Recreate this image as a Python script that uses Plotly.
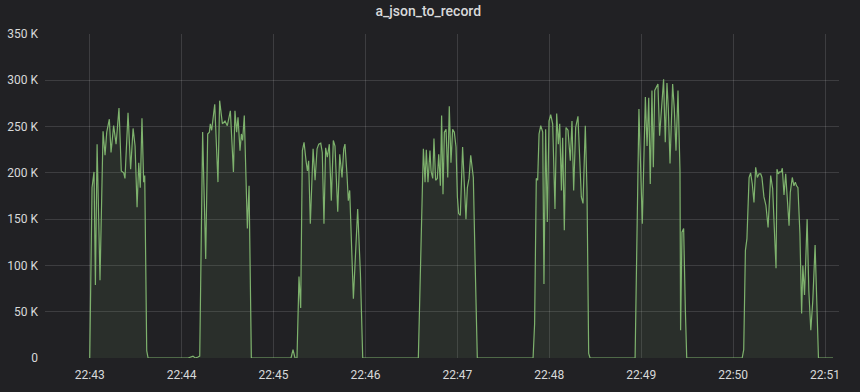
import pandas as pd
import plotly.graph_objects as go

# seconds after 22:43:00, values in thousands
b1_t = [0.0, 1.5, 2.8, 3.7, 4.8, 6.7, 8.7, 10.0, 11.1, 12.8, 13.9, 15.6, 17.2, 19.1, 20.6, 22.2, 23.0, 25.0, 26.7, 28.3, 29.6, 30.9, 32.0, 33.0, 34.1, 35.2, 35.9, 37.2, 38.1]
b1_v = [0, 184, 201, 79, 231, 84, 245, 219, 244, 258, 222, 251, 231, 270, 202, 200, 194, 265, 204, 248, 229, 163, 211, 184, 259, 190, 197, 8, 0]

b2_t = [64.2, 67.4, 68.9, 70.7, 71.8, 73.7, 75.7, 77.0, 78.1, 78.7, 79.6, 81.6, 83.7, 84.8, 86.6, 88.3, 89.8, 91.8, 93.8, 94.8, 95.9, 96.8, 98.1, 99.0, 99.8, 100.9, 102.9, 104.0, 105.5]
b2_v = [0, 2, 0, 1, 2, 244, 107, 242, 244, 253, 246, 274, 190, 278, 253, 256, 251, 267, 201, 267, 244, 260, 224, 242, 235, 262, 140, 186, 0]

b3_t = [131.4, 132.7, 134.0, 135.3, 136.6, 137.7, 138.8, 139.9, 141.2, 142.1, 142.9, 144.0, 145.8, 147.1, 148.4, 149.5, 150.8, 151.8, 152.9, 154.0, 155.1, 156.4, 157.7, 159.0, 160.1, 161.9, 163.2, 164.7, 165.8, 166.6, 167.9, 168.8, 169.7, 172.1, 174.9, 176.7, 178.2]
b3_v = [0, 9, 0, 0, 88, 54, 224, 233, 213, 202, 213, 145, 226, 192, 226, 231, 232, 222, 145, 227, 217, 231, 170, 235, 229, 158, 220, 195, 226, 231, 199, 170, 181, 64, 161, 91, 0]

b4_t = [214.5, 217.3, 217.8, 218.9, 219.7, 220.8, 222.1, 222.8, 223.9, 224.7, 225.8, 226.9, 227.8, 228.9, 229.7, 230.6, 231.5, 232.6, 233.7, 234.7, 235.8, 236.9, 238.0, 239.1, 240.0, 240.8, 241.9, 243.4, 244.5, 245.6, 246.5, 247.6, 248.7, 250.4, 251.5, 253.0]
b4_v = [0, 194, 226, 190, 225, 190, 224, 202, 194, 237, 192, 194, 220, 186, 262, 177, 244, 247, 195, 272, 211, 247, 244, 228, 174, 156, 154, 228, 192, 150, 184, 194, 219, 195, 109, 0]

b5_t = [289.4, 290.4, 291.5, 292.4, 293.3, 294.4, 295.7, 296.5, 297.6, 298.7, 299.8, 300.9, 302.2, 303.7, 304.8, 305.9, 306.8, 307.9, 308.7, 309.8, 310.9, 312.2, 313.7, 314.8, 315.9, 317.2, 318.7, 319.8, 320.9, 322.0, 323.5, 324.6, 325.7, 326.6]
b5_v = [0, 37, 194, 192, 242, 251, 244, 80, 247, 147, 256, 263, 253, 161, 264, 231, 253, 181, 238, 138, 249, 246, 213, 256, 181, 249, 261, 224, 174, 167, 251, 181, 5, 0]

b6_t = [356.0, 358.5, 360.7, 362.7, 363.8, 364.9, 365.9, 367.0, 367.9, 368.8, 369.9, 370.9, 372.0, 373.3, 374.6, 375.7, 376.8, 377.7, 378.8, 380.5, 381.6, 382.7, 384.0, 385.3, 385.7, 386.6, 387.7, 388.8, 389.7]
b6_v = [0, 269, 145, 282, 229, 281, 188, 289, 206, 289, 292, 296, 240, 276, 301, 233, 297, 269, 210, 296, 269, 224, 289, 202, 30, 136, 140, 52, 0]

b7_t = [425.9, 426.9, 428.0, 429.0, 430.4, 431.4, 432.5, 433.6, 434.7, 435.8, 436.9, 438.0, 438.8, 440.1, 441.4, 442.8, 444.5, 445.8, 447.1, 448.0, 448.6, 449.5, 450.4, 451.4, 452.1, 453.2, 454.3, 455.6, 456.5, 457.3, 458.6, 459.7, 460.6, 461.4, 462.3, 463.6, 464.7, 465.5, 466.6, 468.3, 469.4, 470.7, 472.0, 473.5, 474.6, 475.7, 485.2]
b7_v = [0, 9, 116, 129, 195, 200, 188, 168, 206, 195, 199, 199, 195, 174, 165, 141, 197, 183, 131, 97, 204, 199, 201, 201, 205, 176, 199, 168, 143, 179, 195, 186, 190, 186, 184, 134, 48, 100, 68, 150, 73, 30, 62, 122, 70, 0, 0]

y_tick_vals = [0, 50000, 100000, 150000, 200000, 250000, 300000, 350000]
y_tick_text = ["0", "50 K", "100 K", "150 K", "200 K", "250 K", "300 K", "350 K"]
x_tick_labels = ["22:43", "22:44", "22:45", "22:46", "22:47", "22:48", "22:49", "22:50", "22:51"]

base = pd.Timestamp("2020-01-01 22:43:00")
secs = b1_t + b2_t + b3_t + b4_t + b5_t + b6_t + b7_t
vals = b1_v + b2_v + b3_v + b4_v + b5_v + b6_v + b7_v
xs = [base + pd.Timedelta(seconds=s) for s in secs]
ys = [v * 1000 for v in vals]

x_tick_vals = [pd.Timestamp("2020-01-01 " + t) for t in x_tick_labels]

fig = go.Figure()
fig.add_trace(go.Scatter(
    x=xs, y=ys, mode="lines",
    line=dict(color="#7EB26D", width=1.2),
    fill="tozeroy", fillcolor="rgba(126,178,109,0.1)",
    hoverinfo="skip", showlegend=False,
))

fig.update_layout(
    width=860, height=392,
    paper_bgcolor="#212124", plot_bgcolor="#212124",
    margin=dict(l=45, r=21, t=34, b=34),
    title=dict(text="a_json_to_record", x=0.498, xanchor="center", y=0.985, yanchor="top",
               font=dict(family="Roboto", size=14, color="#d8d9da", weight=500)),
    font=dict(family="Roboto", size=12, color="#d8d9da"),
    xaxis=dict(
        range=[base - pd.Timedelta(seconds=29.2), base + pd.Timedelta(seconds=489.1)],
        tickvals=x_tick_vals, ticktext=x_tick_labels, automargin=False,
        showgrid=True, gridcolor="rgba(255,255,255,0.13)", gridwidth=1,
        zeroline=False, showline=False, ticks="", ticklabelstandoff=8,
    ),
    yaxis=dict(
        range=[0, 350000], automargin=False,
        tickvals=y_tick_vals, ticktext=y_tick_text,
        showgrid=True, gridcolor="rgba(255,255,255,0.13)", gridwidth=1,
        zeroline=False, showline=False, ticks="", ticklabelstandoff=6,
    ),
)

fig.write_html("out.html")
